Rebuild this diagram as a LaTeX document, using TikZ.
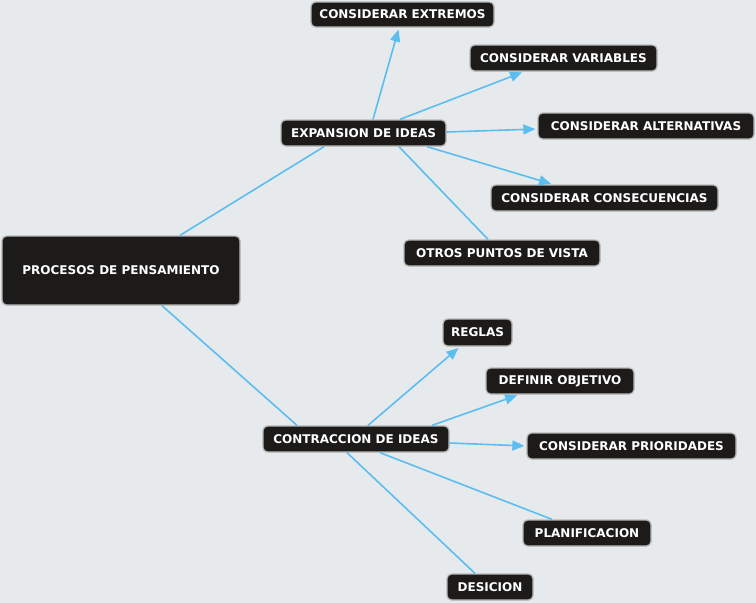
\documentclass[tikz,border=0pt]{standalone}
\usepackage{fontspec}
\setmainfont{DejaVu Sans}
\usetikzlibrary{arrows.meta}
\definecolor{bg}{HTML}{E6EAEC}
\definecolor{boxfill}{HTML}{1C1B1A}
\definecolor{boxline}{HTML}{B8B8B8}
\definecolor{link}{HTML}{5CBDF0}
\tikzset{
  box/.style={rectangle, rounded corners=4.5pt, fill=boxfill, draw=boxline, line width=1.3pt,
    text=white, font=\bfseries\fontsize{12}{14}\selectfont, inner sep=0pt, anchor=center},
  conn/.style={draw=link, line width=1.6pt},
  arr/.style={conn, -{Triangle[length=12pt, width=10pt]}, shorten >=2pt},
}
\begin{document}
\begin{tikzpicture}[x=1pt, y=-1pt]
\fill[bg] (0,0) rectangle (756,603);
\useasboundingbox (0,0) rectangle (756,603);
\node[box, minimum width=238pt, minimum height=69pt] (root) at (121,270.5) {PROCESOS DE PENSAMIENTO};
\node[box, minimum width=165pt, minimum height=26pt] (exp) at (363.5,133) {EXPANSION DE IDEAS};
\node[box, minimum width=183pt, minimum height=25pt] (ext) at (402.5,14.5) {CONSIDERAR EXTREMOS};
\node[box, minimum width=187pt, minimum height=26pt] (var) at (563.5,58) {CONSIDERAR VARIABLES};
\node[box, minimum width=216pt, minimum height=26pt] (alt) at (646,126) {CONSIDERAR ALTERNATIVAS};
\node[box, minimum width=227pt, minimum height=26pt] (cons) at (604.5,198) {CONSIDERAR CONSECUENCIAS};
\node[box, minimum width=196pt, minimum height=26pt] (otros) at (502,253) {OTROS PUNTOS DE VISTA};
\node[box, minimum width=186pt, minimum height=26pt] (con) at (356,439) {CONTRACCION DE IDEAS};
\node[box, minimum width=69pt, minimum height=27pt] (reg) at (477.5,332.5) {REGLAS};
\node[box, minimum width=148pt, minimum height=26pt] (def) at (560,381) {DEFINIR OBJETIVO};
\node[box, minimum width=209pt, minimum height=26pt] (pri) at (631.5,446) {CONSIDERAR PRIORIDADES};
\node[box, minimum width=128pt, minimum height=26pt] (plan) at (587,533) {PLANIFICACION};
\node[box, minimum width=86pt, minimum height=26pt] (des) at (490,587) {DESICION};
\draw[conn] ([xshift=59pt]root.north) -- ([xshift=-39.5pt]exp.south);
\draw[conn] ([xshift=41pt]root.south) -- ([xshift=-59pt]con.north);
\draw[arr] ([xshift=9.5pt]exp.north) -- ([xshift=-3.5pt]ext.south);
\draw[arr] ([xshift=36.5pt]exp.north) -- ([xshift=-39.5pt]var.south);
\draw[arr] ([yshift=1pt]exp.east) -- ([yshift=-3pt]alt.west);
\draw[arr] ([xshift=63.5pt]exp.south) -- ([xshift=-51.5pt]cons.north);
\draw[conn] ([xshift=35.5pt]exp.south) -- ([xshift=-14pt]otros.north);
\draw[arr] ([xshift=12pt]con.north) -- ([xshift=-17.5pt]reg.south);
\draw[arr] ([xshift=76pt]con.north) -- ([xshift=-41pt]def.south);
\draw[arr] ([yshift=-4pt]con.east) -- (pri.west);
\draw[conn] ([xshift=24pt]con.south) -- ([xshift=-35pt]plan.north);
\draw[conn] ([xshift=-9pt]con.south) -- ([xshift=-15pt]des.north);
\end{tikzpicture}
\end{document}
